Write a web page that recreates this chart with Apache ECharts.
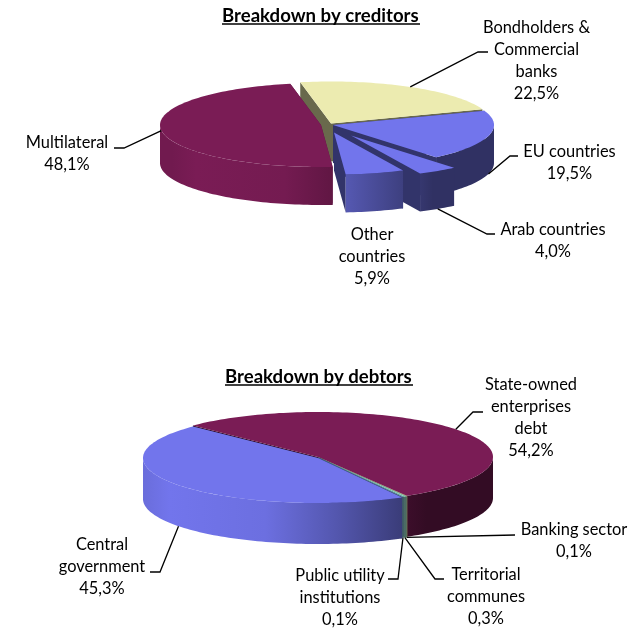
<!DOCTYPE html>
<html><head><meta charset="utf-8">
<style>html,body{margin:0;padding:0;background:#fff}#c{width:634px;height:629px}</style>
<script src="https://cdn.jsdelivr.net/npm/echarts@6/dist/echarts.min.js"></script>
</head><body><div id="c"></div>
<script>
// ---- data ----
var creditorNames = ['Bondholders &\nCommercial\nbanks', 'EU countries', 'Arab countries', 'Other\ncountries', 'Multilateral'];
var creditorValues = [22.5, 19.5, 4.0, 5.9, 48.1];
var debtorNames = ['State-owned\nenterprises\ndebt', 'Banking sector', 'Territorial\ncommunes', 'Public utility\ninstitutions', 'Central\ngovernment'];
var debtorValues = [54.2, 0.1, 0.3, 0.1, 45.3];
var titles = ['Breakdown by creditors', 'Breakdown by debtors'];

// ---- styling / layout ----
var FONT = '16.4px Lato, Carlito, sans-serif';
var creditorPie = {
  cx: 333, cy: 125, rx: 161, ry: 42, depth: 38, start: -11,
  colors: ['#ecebb0', '#7275ec', '#7275ec', '#7275ec', '#7a1c55'],
  radial: ['#69694c', '#32346a', '#32346a', '#32346a', '#5a1440'],
  shift: [[-2, -1.5], [0, 0], [18, 10.5], [1, 7.5], [-12, 0]],
  paint: [0, 4, 1, 2, 3],
  label: [[536.5, 27.5], [569.5, 152], [553, 229.5], [372, 235], [67, 142.5]],
  elbow: [[[478, 52], [488, 52]], [[510, 156], [518, 156]], [[487, 234], [495, 234]], null, [[124, 148], [114, 148]]]
};
var debtorPie = {
  cx: 318, cy: 457, rx: 175, ry: 45, depth: 41, start: -45.6,
  colors: ['#7a1c55', '#e6e6a8', '#93d5c5', '#7fa8b8', '#7275ec'],
  radial: ['#300a27', '#69694c', '#47756d', '#3a5a70', '#32346a'],
  shift: [[0, 0], [0.5, 0.5], [0.5, 0.5], [0.5, 0.5], [0, 1]],
  paint: [0, 1, 2, 3, 4],
  label: [[531, 385], [574, 530], [486, 575], [340, 576], [102, 544.5]],
  elbow: [[[473, 412], [483, 412]], [[515, 535], [515, 535]], [[435, 579], [444, 579]], [[398, 579], [388, 579]], [[160, 572], [150, 572]]]
};
// wall shading across the pie width: [u (-1..1), factor]
var SHADE = [[-1, 0.93], [-0.85, 1], [-0.3, 0.95], [0.1, 0.74], [0.5, 0.5], [0.62, 0.42], [1, 0.42]];

function scale(hex, f) {
  var n = parseInt(hex.slice(1), 16);
  var r = Math.round(((n >> 16) & 255) * f), g = Math.round(((n >> 8) & 255) * f), b = Math.round((n & 255) * f);
  return 'rgb(' + r + ',' + g + ',' + b + ')';
}
function wallFill(p, hex) {
  return {
    type: 'linear', global: true,
    x: p.cx - p.rx, y: 0, x2: p.cx + p.rx, y2: 0,
    colorStops: SHADE.map(function (s) { return { offset: (s[0] + 1) / 2, color: scale(hex, s[1]) }; })
  };
}
function rim(p, off, deg, dz) {
  var t = deg * Math.PI / 180;
  return [p.cx + off[0] + p.rx * Math.sin(t), p.cy + off[1] - p.ry * Math.cos(t) + (dz || 0)];
}
function arc(p, off, a, b, dz) {
  var n = Math.max(2, Math.ceil(Math.abs(b - a) / 1.5)), pts = [];
  for (var i = 0; i <= n; i++) pts.push(rim(p, off, a + (b - a) * i / n, dz));
  return pts;
}
function pct(v) { return v.toFixed(1).replace('.', ',') + '%'; }

function sliceRender(p, names, values) {
  var total = values.reduce(function (s, v) { return s + v; }, 0);
  return function (params, api) {
    var i = params.dataIndex, v = api.value(0), acc = 0;
    for (var k = 0; k < i; k++) acc += values[k];
    var a = p.start + acc / total * 360, b = a + v / total * 360;
    var off = p.shift[i], apex = [p.cx + off[0], p.cy + off[1]];
    var order = p.paint.indexOf(i) * 10, kids = [];
    function poly(points, fill, z) {
      kids.push({ type: 'polygon', shape: { points: points }, style: { fill: fill, stroke: null }, z2: order + z });
    }
    // radial walls
    [a, b].forEach(function (d) {
      var r0 = rim(p, off, d), r1 = rim(p, off, d, p.depth);
      poly([apex, r0, r1, [apex[0], apex[1] + p.depth]], p.radial[i], 0);
    });
    // outer wall (front half only)
    [[-270, -90], [90, 270], [450, 630]].forEach(function (w) {
      var s = Math.max(a, w[0]), e = Math.min(b, w[1]);
      if (e > s) poly(arc(p, off, s, e, 0).concat(arc(p, off, e, s, p.depth)), wallFill(p, p.colors[i]), 1);
    });
    // top face
    poly([apex].concat(arc(p, off, a, b, 0)), p.colors[i], 2);
    // leader line, starting on the rim at the slice's mid angle
    var mid = (a + b) / 2, norm = ((mid % 360) + 360) % 360;
    if (p.elbow[i]) {
      var front = norm > 90 && norm < 255;
      kids.push({
        type: 'polyline',
        shape: { points: [rim(p, off, mid, front ? p.depth : 0)].concat(p.elbow[i]) },
        style: { stroke: '#000', lineWidth: 1.3, fill: null }, z2: 100
      });
    }
    // label
    kids.push({
      type: 'text', x: p.label[i][0], y: p.label[i][1] - 11,
      style: { text: names[i] + '\n' + pct(v), font: FONT, fill: '#000', align: 'center', verticalAlign: 'top', lineHeight: 22 },
      z2: 101
    });
    return { type: 'group', children: kids };
  };
}

var chart = echarts.init(document.getElementById('c'), null, { renderer: 'canvas' });
chart.setOption({
  animation: false,
  backgroundColor: '#fff',
  title: [
    { text: titles[0], left: 222, top: 6, padding: 0, textStyle: { fontFamily: 'Lato, Carlito, sans-serif', fontSize: 18.6, fontWeight: 'bold', color: '#000' } },
    { text: titles[1], left: 225, top: 367, padding: 0, textStyle: { fontFamily: 'Lato, Carlito, sans-serif', fontSize: 18.6, fontWeight: 'bold', color: '#000' } }
  ],
  graphic: [
    { type: 'line', shape: { x1: 222, y1: 24, x2: 420, y2: 24 }, style: { stroke: '#000', lineWidth: 1.3 } },
    { type: 'line', shape: { x1: 225, y1: 385, x2: 413, y2: 385 }, style: { stroke: '#000', lineWidth: 1.3 } }
  ],
  series: [
    { type: 'custom', coordinateSystem: 'none', silent: true, data: creditorValues, renderItem: sliceRender(creditorPie, creditorNames, creditorValues) },
    { type: 'custom', coordinateSystem: 'none', silent: true, data: debtorValues, renderItem: sliceRender(debtorPie, debtorNames, debtorValues) }
  ]
});
</script></body></html>
